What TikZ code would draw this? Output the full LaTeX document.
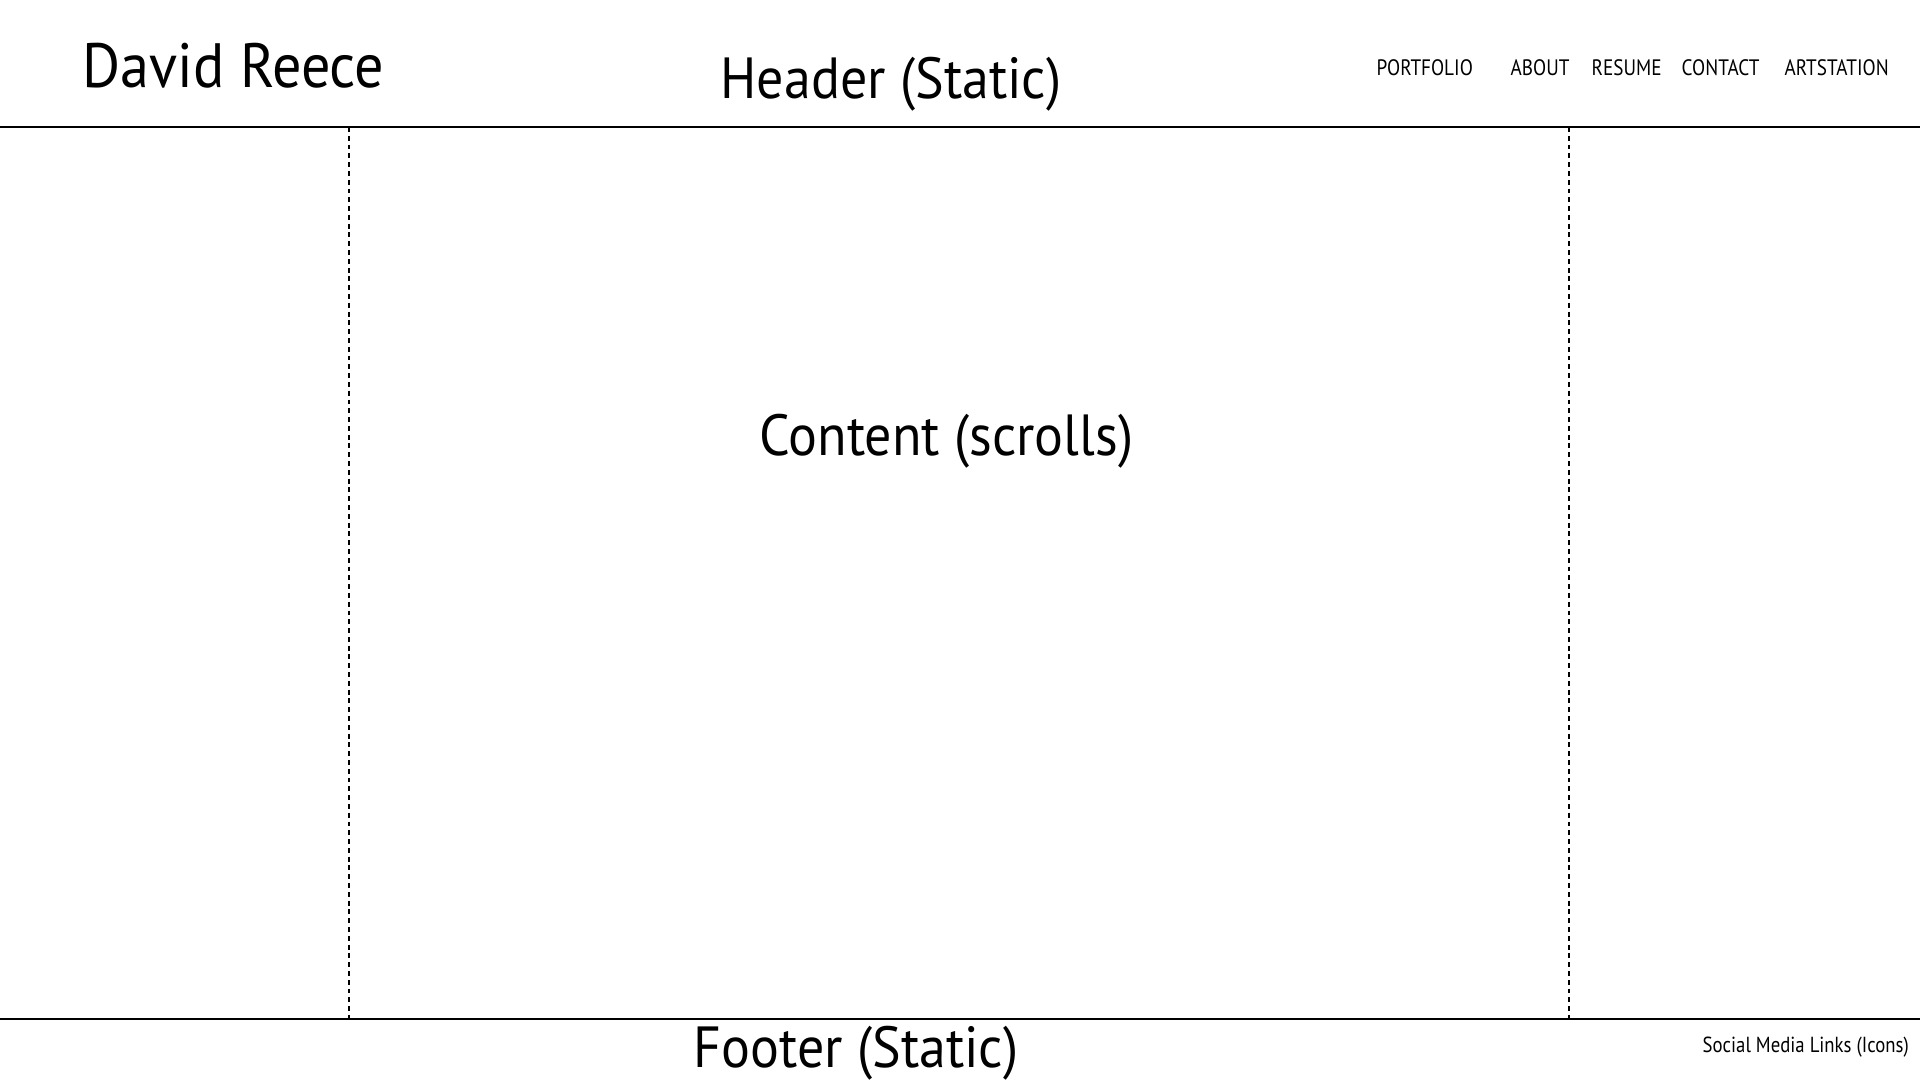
\documentclass[tikz,border=0pt]{standalone}
\usepackage{fontspec}
\setmainfont[FakeStretch=0.93]{PT Sans}
\newfontfamily\navfont[FakeStretch=0.86]{PT Sans}
\usetikzlibrary{positioning,calc}

\tikzset{
    label/.style={inner sep=0pt, anchor=base west},
    bigtext/.style={label, font=\fontsize{16.5}{16.5}\selectfont},
    nametext/.style={label, font=\fontsize{17.8}{17.8}\selectfont},
    navtext/.style={label, font=\navfont\fontsize{6.35}{6.35}\selectfont},
    smalltext/.style={label, font=\navfont\fontsize{6.2}{6.2}\selectfont},
    divider/.style={line width=0.45pt},
    column/.style={line width=0.3pt, dash pattern=on 1.4pt off 1.1pt}
}

\begin{document}
\begin{tikzpicture}[x=0.01cm, y=-0.01cm]
    \useasboundingbox (0,0) rectangle (1920,1080);

    % Header
    \node[nametext] (name) at (82,88) {David Reece};
    \node[bigtext] (header) at (720,99) {Header (Static)};
    \node[navtext] (portfolio) at (1376,76) {PORTFOLIO};
    \node[navtext] (about) at (1510,76) {ABOUT};
    \node[navtext] (resume) at (1591,76) {RESUME};
    \node[navtext] (contact) at (1681,76) {CONTACT};
    \node[navtext] (artstation) at (1784,76) {ARTSTATION};

    % Header and footer lines
    \coordinate (HL) at (0,127);
    \coordinate (HR) at (1920,127);
    \coordinate (FL) at (0,1019);
    \coordinate (FR) at (1920,1019);
    \draw[divider] (HL) -- (HR);
    \draw[divider] (FL) -- (FR);

    % Content columns
    \foreach \x in {349,1569} {
        \draw[column] (\x,127) -- (\x,1019);
    }
    \node[bigtext] (content) at (759,456) {Content (scrolls)};

    % Footer
    \node[bigtext] (footer) at (693,1068) {Footer (Static)};
    \node[smalltext] (social) at (1702,1053) {Social Media Links (Icons)};
\end{tikzpicture}
\end{document}
